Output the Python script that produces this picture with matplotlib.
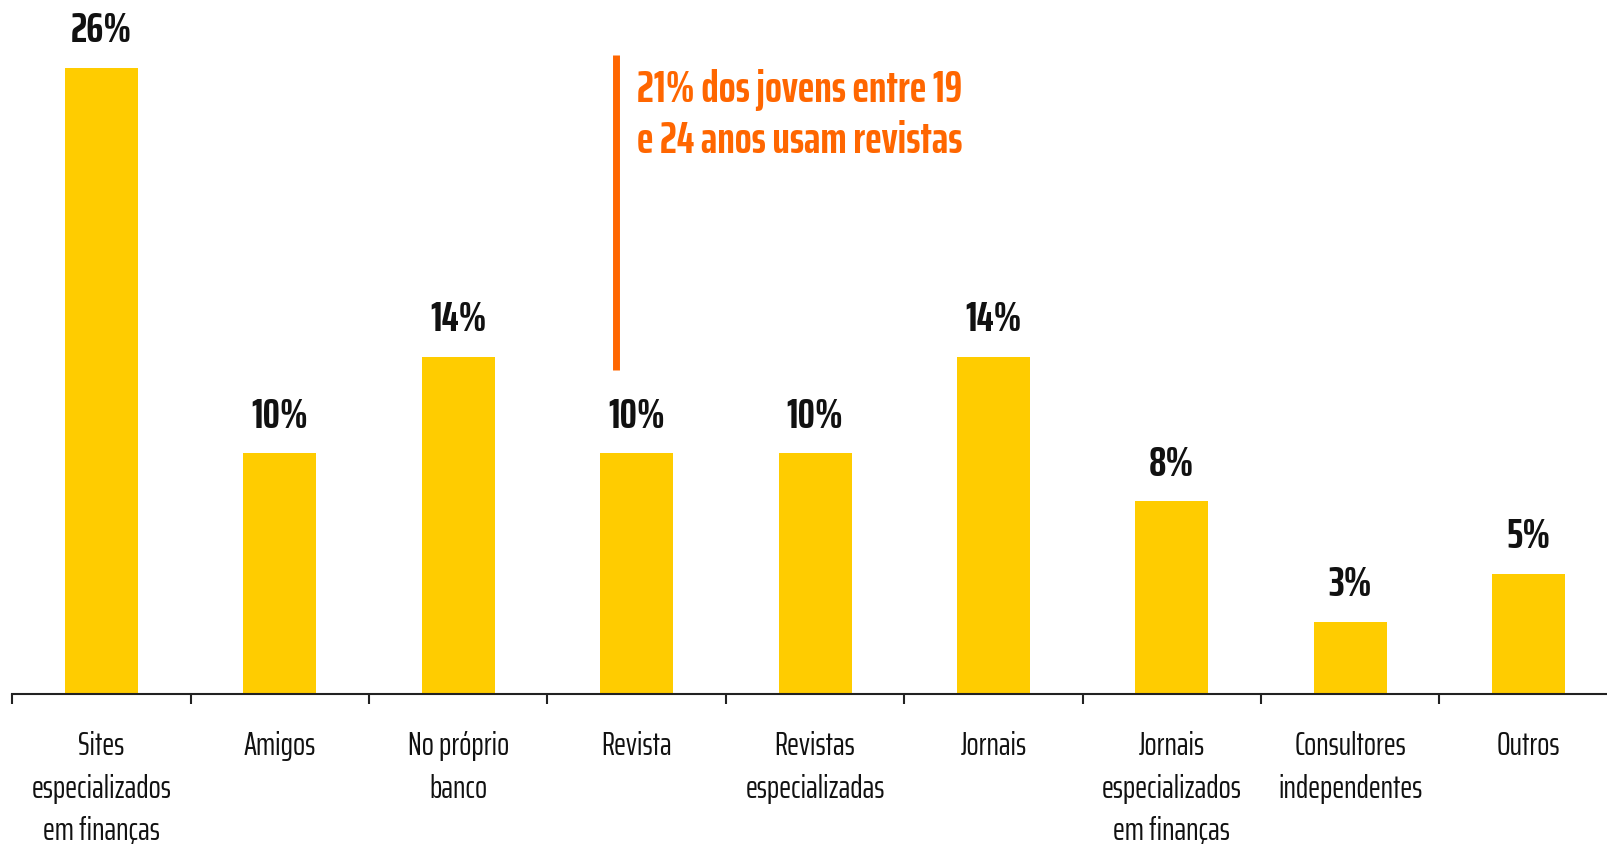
import matplotlib
matplotlib.use("Agg")
import matplotlib.pyplot as plt
from matplotlib import font_manager as fm

names = {f.name for f in fm.fontManager.ttflist}
candidates = ["Saira Extra Condensed", "Saira ExtraCondensed", "Pathway Gothic One", "Teko",
              "Oswald", "Barlow Condensed"]
narrow = next((c for c in candidates if c in names), "DejaVu Sans")
plt.rcParams['font.family'] = [narrow, 'DejaVu Sans']

categories = ["Sites\nespecializados\nem finanças", "Amigos", "No próprio\nbanco", "Revista",
              "Revistas\nespecializadas", "Jornais", "Jornais\nespecializados\nem finanças",
              "Consultores\nindependentes", "Outros"]
values = [26, 10, 14, 10, 10, 14, 8, 3, 5]
value_labels = ["26%", "10%", "14%", "10%", "10%", "14%", "8%", "3%", "5%"]
note_text = "21% dos jovens entre 19\ne 24 anos usam revistas"

W, H = 1608, 844
fig = plt.figure(figsize=(W / 100, H / 100), dpi=100)
ax = fig.add_axes([12.3 / W, 150 / H, 1605.6 / W, 694 / H])

x = list(range(len(categories)))
ax.bar(x, values, width=0.41, color="#FFCC00", zorder=2)
ax.set_xlim(-0.5, 8.5)
ax.set_ylim(0, 28.82)

for s in ["top", "right", "left"]:
    ax.spines[s].set_visible(False)
ax.spines["bottom"].set_color("#222222")
ax.spines["bottom"].set_linewidth(1.5)
ax.set_yticks([])
ax.set_xticks([i - 0.5 for i in range(len(categories) + 1)])
ax.set_xticklabels([])
ax.tick_params(axis="x", direction="out", length=7, width=1.5, color="#222222")

for i, (v, lab) in enumerate(zip(values, value_labels)):
    ax.annotate(lab, xy=(i, v), xytext=(0, 18.5), textcoords="offset points",
                ha="center", va="baseline", fontsize=31, fontweight="bold", color="#111111")

for i, cat in enumerate(categories):
    ax.annotate(cat, xy=(i, 0), xytext=(0, -26.5), textcoords="offset points",
                ha="center", va="top", fontsize=23, color="#111111", linespacing=1.53,
                annotation_clip=False)

ax.plot([2.886, 2.886], [13.45, 26.52], color="#FF6600", linewidth=5, solid_capstyle="butt",
        zorder=3)
ax.text(3.002, 24.02, note_text, ha="left", va="center", fontsize=32, fontweight="bold",
        color="#FF6600", linespacing=1.27)

fig.savefig("out.png", dpi=100)
